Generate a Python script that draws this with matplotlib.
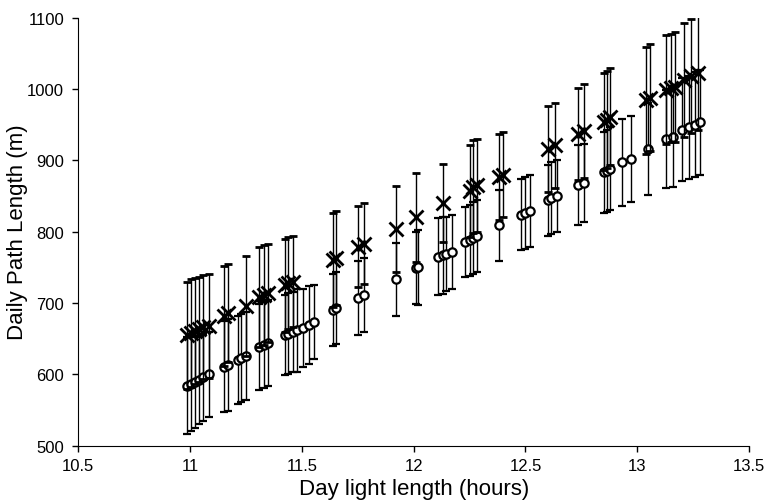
import matplotlib
matplotlib.use("Agg")
import matplotlib.pyplot as plt
import numpy as np

plt.rcParams['font.family'] = ['Liberation Sans', 'DejaVu Sans']

# lower series (open circles)
circ_x = [10.987, 11.005, 11.023, 11.04, 11.06, 11.085, 11.15, 11.17, 11.215, 11.23,
          11.25, 11.31, 11.33, 11.35, 11.425, 11.44, 11.46, 11.48, 11.505, 11.53,
          11.555, 11.64, 11.655, 11.75, 11.78, 11.92, 12.01, 12.02, 12.11, 12.13,
          12.145, 12.17, 12.23, 12.25, 12.265, 12.285, 12.38, 12.48, 12.5, 12.52,
          12.6, 12.615, 12.64, 12.735, 12.76, 12.85, 12.865, 12.88, 12.93, 12.97,
          13.05, 13.13, 13.16, 13.2, 13.23, 13.26, 13.28]
circ_y = [584, 587, 589, 592, 596, 600, 611, 613, 620, 623,
          626, 638, 641, 644, 655, 657, 659, 662, 665, 669,
          673, 690, 693, 707, 711, 733, 749, 750, 765, 767,
          769, 772, 785, 788, 791, 794, 809, 824, 826, 829,
          844, 847, 850, 865, 868, 883, 885, 888, 897, 902,
          916, 930, 933, 943, 946, 950, 953]
circ_err = [68, 66, 64, 62, 61, 60, 64, 64, 62, 62,
            62, 60, 60, 60, 56, 57, 56, 58, 54, 55,
            52, 50, 51, 52, 52, 51, 50, 53, 54, 54,
            52, 52, 49, 50, 51, 51, 50, 50, 50, 51,
            50, 50, 51, 56, 55, 57, 58, 58, 61, 60,
            65, 69, 70, 72, 72, 74, 74]

# upper series (crosses)
cross_x = [10.987, 11.005, 11.023, 11.04, 11.06, 11.085, 11.15, 11.17, 11.25,
           11.31, 11.33, 11.35, 11.425, 11.44, 11.46, 11.64, 11.655, 11.75, 11.78,
           11.92, 12.01, 12.13, 12.25, 12.265, 12.285, 12.38, 12.4,
           12.6, 12.63, 12.735, 12.76, 12.85, 12.865, 12.88, 13.04, 13.055,
           13.13, 13.15, 13.17, 13.21, 13.24, 13.27]
cross_y = [655, 658, 661, 663, 666, 668, 682, 686, 696,
           708, 711, 714, 725, 728, 730, 760, 763, 779, 783,
           804, 820, 840, 857, 863, 865, 877, 880,
           916, 921, 937, 941, 954, 957, 961, 984, 988,
           999, 1001, 1003, 1013, 1018, 1022]
cross_err = [75, 75, 74, 74, 73, 73, 70, 69, 70,
             70, 70, 69, 65, 65, 64, 66, 66, 57, 57,
             60, 62, 55, 65, 65, 65, 60, 60,
             60, 60, 64, 66, 68, 68, 68, 75, 75,
             76, 76, 77, 80, 80, 80]

fig, ax = plt.subplots(figsize=(7.66, 5.02), dpi=100)
fig.subplots_adjust(left=0.102, right=0.978, bottom=0.110, top=0.963)

ax.errorbar(circ_x, circ_y, yerr=circ_err, fmt='o', mfc='white', mec='black', mew=1.6,
            ms=6, ecolor='black', elinewidth=1, capsize=3, capthick=1, zorder=2)
ax.errorbar(cross_x, cross_y, yerr=cross_err, fmt='x', color='black', mew=2,
            ms=10, ecolor='black', elinewidth=1, capsize=3, capthick=1, zorder=3)

ax.set_xlim(10.5, 13.5)
ax.set_ylim(500, 1100)
ax.set_xticks(np.arange(10.5, 13.6, 0.5))
ax.set_xticklabels(['10.5', '11', '11.5', '12', '12.5', '13', '13.5'])
ax.set_yticks(np.arange(500, 1101, 100))

ax.spines['top'].set_visible(False)
ax.spines['right'].set_visible(False)
ax.tick_params(direction='out', length=4, labelsize=12, width=1)
ax.tick_params(axis='y', pad=6)
ax.tick_params(axis='x', pad=5)
ax.set_xlabel('Day light length (hours)', fontsize=16)
ax.set_ylabel('Daily Path Length (m)', fontsize=16)
ax.xaxis.set_label_coords(0.5, -0.075)
ax.yaxis.set_label_coords(-0.074, 0.5)

fig.savefig('out.png', dpi=100)
